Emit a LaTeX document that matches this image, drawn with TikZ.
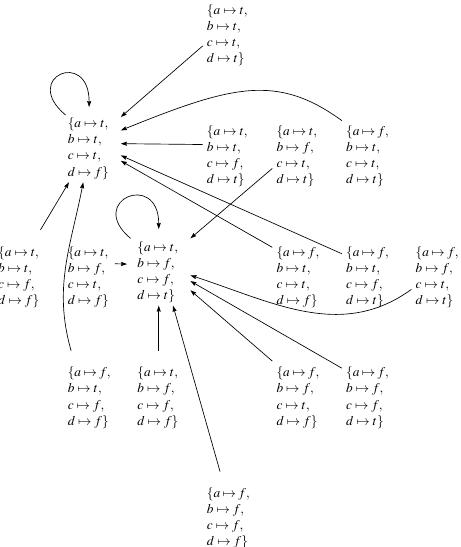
\documentclass[tikz,border=0pt]{standalone}
\usepackage{mathptmx}
\usepackage{tikz}
\usetikzlibrary{arrows.meta}

\newcommand{\valuation}[4]{$\{a \mapsto #1,$\\$b \mapsto #2,$\\$c \mapsto #3,$\\$d \mapsto #4\}$}

\begin{document}
\begin{tikzpicture}[
  x=52.1pt, y=-90.5pt,
  valbox/.style={align=left, text width=32pt, inner xsep=3pt, inner ysep=12pt},
  fixbox/.style={valbox, inner xsep=7.5pt, inner ysep=2pt},
  arrow/.style={-{Stealth[length=4.5pt,width=3pt,inset=0.5pt]}, line width=0.5pt},
  loopback/.style={out=140, in=90, distance=44pt}
]
\useasboundingbox (-0.281,-0.29) rectangle (6.338,4.235);

\node[valbox] (tttt) at (3,0) {\valuation{t}{t}{t}{t}};

\node[fixbox] (tttf) at (1,0.94) {\valuation{t}{t}{t}{f}};
\node[valbox] (ttft) at (3,1) {\valuation{t}{t}{f}{t}};
\node[valbox] (tftt) at (4,1) {\valuation{t}{f}{t}{t}};
\node[valbox] (fttt) at (5,1) {\valuation{f}{t}{t}{t}};

\node[valbox] (ttff) at (0,2) {\valuation{t}{t}{f}{f}};
\node[valbox] (tftf) at (1,2) {\valuation{t}{f}{t}{f}};
\node[fixbox] (tfft) at (2,1.96) {\valuation{t}{f}{f}{t}};
\node[valbox] (fttf) at (4,2) {\valuation{f}{t}{t}{f}};
\node[valbox] (ftft) at (5,2) {\valuation{f}{t}{f}{t}};
\node[valbox] (fftt) at (6,2) {\valuation{f}{f}{t}{t}};

\node[valbox] (ftff) at (1,3) {\valuation{f}{t}{f}{f}};
\node[valbox] (tfff) at (2,3) {\valuation{t}{f}{f}{f}};
\node[valbox] (fftf) at (4,3) {\valuation{f}{f}{t}{f}};
\node[valbox] (ffft) at (5,3) {\valuation{f}{f}{f}{t}};

\node[valbox] (ffff) at (3,4) {\valuation{f}{f}{f}{f}};

\draw[arrow] (tttf.125) to[loopback] ([yshift=6pt]tttf.north);
\draw[arrow] (tttt.203) -- (tttf.45);
\draw[arrow] (fttt.126) to[out=144, in=22, out distance=60pt, in distance=90pt] (tttf.30);
\draw[arrow] (ttft.156) -- (tttf.9);
\draw[arrow] (ftft.138) -- (tttf.-12);
\draw[arrow] (fttf.131) -- (tttf.-21);
\draw[arrow] (ttff.66) -- (tttf.239);
\draw[arrow] (ftff.111) to[out=106, in=259] (tttf.260);

\draw[arrow] (tfft.130) to[loopback] ([yshift=7pt]tfft.north);
\draw[arrow] (tftt.206) -- (tfft.north east);
\draw[arrow] (tftf.27) -- (tfft.166);
\draw[arrow] (fftt.206) to[out=216, in=-18] (tfft.-6);
\draw[arrow] (ffft.131) -- (tfft.-16);
\draw[arrow] (fftf.125) -- (tfft.-30);
\draw[arrow] (tfff) -- (tfft);
\draw[arrow] (ffff.100) -- (tfft.-67);
\end{tikzpicture}
\end{document}
